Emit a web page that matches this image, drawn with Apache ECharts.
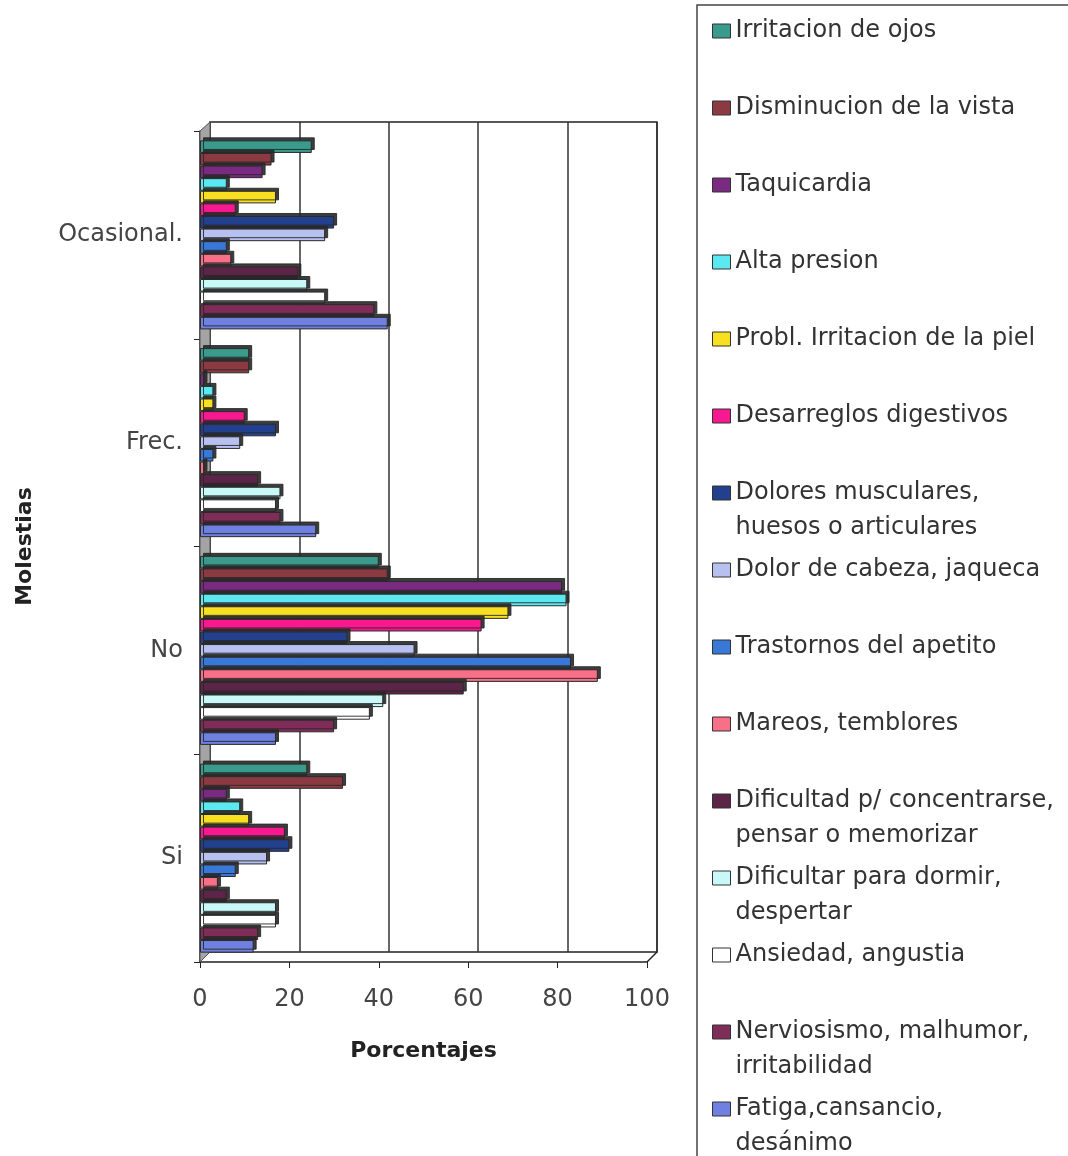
<!DOCTYPE html>
<html>
<head>
<meta charset="utf-8">
<script src="https://cdn.jsdelivr.net/npm/echarts@6/dist/echarts.min.js"></script>
<style>
  html, body { margin: 0; padding: 0; background: #fff; }
  #chart { width: 1068px; height: 1156px; }
</style>
</head>
<body>
<div id="chart"></div>
<script>
// categorias (de arriba hacia abajo)
const categories = ['Ocasional.', 'Frec.', 'No', 'Si'];

// series, en el orden de la leyenda
const symptoms = [
  'Irritacion de ojos',
  'Disminucion de la vista',
  'Taquicardia',
  'Alta presion',
  'Probl. Irritacion de la piel',
  'Desarreglos digestivos',
  'Dolores musculares,\nhuesos o articulares',
  'Dolor de cabeza, jaqueca',
  'Trastornos del apetito',
  'Mareos, temblores',
  'Dificultad p/ concentrarse,\npensar o memorizar',
  'Dificultar para dormir,\ndespertar',
  'Ansiedad, angustia',
  'Nerviosismo, malhumor,\nirritabilidad',
  'Fatiga,cansancio,\ndesánimo'
];

// porcentajes por categoria (un valor por sintoma)
const ocasional = [25, 16, 14, 6, 17, 8, 30, 28, 6, 7, 22, 24, 28, 39, 42];
const frec      = [11, 11, 1, 3, 3, 10, 17, 9, 3, 1, 13, 18, 17, 18, 26];
const no        = [40, 42, 81, 82, 69, 63, 33, 48, 83, 89, 59, 41, 38, 30, 17];
const si        = [24, 32, 6, 9, 11, 19, 20, 15, 8, 4, 6, 17, 17, 13, 12];

const colors = ['#3a9a8c', '#8c3a42', '#7a2a80', '#5ce8f0', '#f8e020', '#f81890', '#23408e',
  '#b8c0f0', '#3a78d8', '#f87088', '#5c2446', '#c8f8f8', '#ffffff', '#802c58', '#7080e0'];

const FONT = 'DejaVu Sans';
const chart = echarts.init(document.getElementById('chart'));

// una leyenda por item: la primera linea queda alineada con el icono
// (linea vacia al inicio para que el icono quede centrado en la primera linea)
const legends = symptoms.map((name, i) => {
  const twoLines = name.indexOf('\n') >= 0;
  const center = 31 + 77 * i;
  return {
    data: [name],
    orient: 'vertical',
    left: 712,
    top: twoLines ? center - 52.5 : center - 17.5,
    padding: 0,
    itemWidth: 18,
    itemHeight: 14,
    icon: 'rect',
    selectedMode: false,
    formatter: twoLines ? '\n{name}' : '{name}',
    itemStyle: { borderColor: '#333', borderWidth: 1, shadowColor: 'rgba(0,0,0,0)', shadowOffsetX: 0, shadowOffsetY: 0 },
    textStyle: { fontFamily: FONT, fontSize: 24, color: '#333', lineHeight: 35 }
  };
});

const series = symptoms.map((name, i) => ({
  name,
  type: 'bar',
  xAxisIndex: 0,
  yAxisIndex: 0,
  barGap: '0%',
  barCategoryGap: '9%',
  data: [ocasional[i], frec[i], no[i], si[i]],
  itemStyle: {
    color: colors[i],
    borderColor: '#2a2a2a',
    borderWidth: 1,
    shadowColor: 'rgba(40,40,40,0.9)',
    shadowBlur: 0,
    shadowOffsetX: 3,
    shadowOffsetY: -3
  },
  emphasis: { disabled: true }
}));

chart.setOption({
  backgroundColor: '#fff',
  animation: false,
  color: colors,
  legend: legends,
  grid: [
    // frente (barras y ejes)
    { left: 200, right: 421, top: 131, bottom: 194 },
    // pared del fondo (desplazada para el efecto 3D)
    { left: 210, right: 411, top: 122, bottom: 204, show: true, borderColor: '#222', borderWidth: 1.5, z: 0 }
  ],
  xAxis: [
    {
      gridIndex: 0, type: 'value', min: 0, max: 100, interval: 20,
      axisLine: { show: true, lineStyle: { color: '#222', width: 1.5 } },
      axisTick: { show: true, length: 6, lineStyle: { color: '#222' } },
      splitLine: { show: false },
      axisLabel: { fontFamily: FONT, fontSize: 24, color: '#444', margin: 26 },
      name: 'Porcentajes', nameLocation: 'middle', nameGap: 78,
      nameTextStyle: { fontFamily: FONT, fontSize: 22, fontWeight: 'bold', color: '#222' }
    },
    {
      gridIndex: 1, type: 'value', min: 0, max: 100, interval: 20,
      axisLine: { show: false }, axisTick: { show: false }, axisLabel: { show: false },
      splitLine: { show: true, lineStyle: { color: '#333', width: 1.5 } }
    }
  ],
  yAxis: [
    {
      gridIndex: 0, type: 'category', data: categories, inverse: true,
      axisLine: { show: true, lineStyle: { color: '#222', width: 1.5 } },
      axisTick: { show: true, length: 6, lineStyle: { color: '#222' } },
      axisLabel: { fontFamily: FONT, fontSize: 24, color: '#444', margin: 17 },
      name: 'Molestias', nameLocation: 'middle', nameRotate: 90, nameGap: 164,
      nameTextStyle: { fontFamily: FONT, fontSize: 22, fontWeight: 'bold', color: '#222' }
    },
    {
      gridIndex: 1, type: 'category', data: categories, inverse: true, show: false
    }
  ],
  graphic: [
    // marco de la leyenda
    { type: 'rect', z: -1, shape: { x: 697, y: 5, width: 400, height: 1200 },
      style: { fill: 'none', stroke: '#444', lineWidth: 1.5 } },
    // pared izquierda
    { type: 'polygon', z: 1, shape: { points: [[200, 131], [210, 122], [210, 952], [200, 962]] },
      style: { fill: '#a4a4a4', stroke: '#555', lineWidth: 1 } },
    // piso, borde derecho
    { type: 'line', shape: { x1: 647, y1: 962, x2: 657, y2: 952 }, style: { stroke: '#222', lineWidth: 1.5 } }
  ],
  series
});
</script>
</body>
</html>
